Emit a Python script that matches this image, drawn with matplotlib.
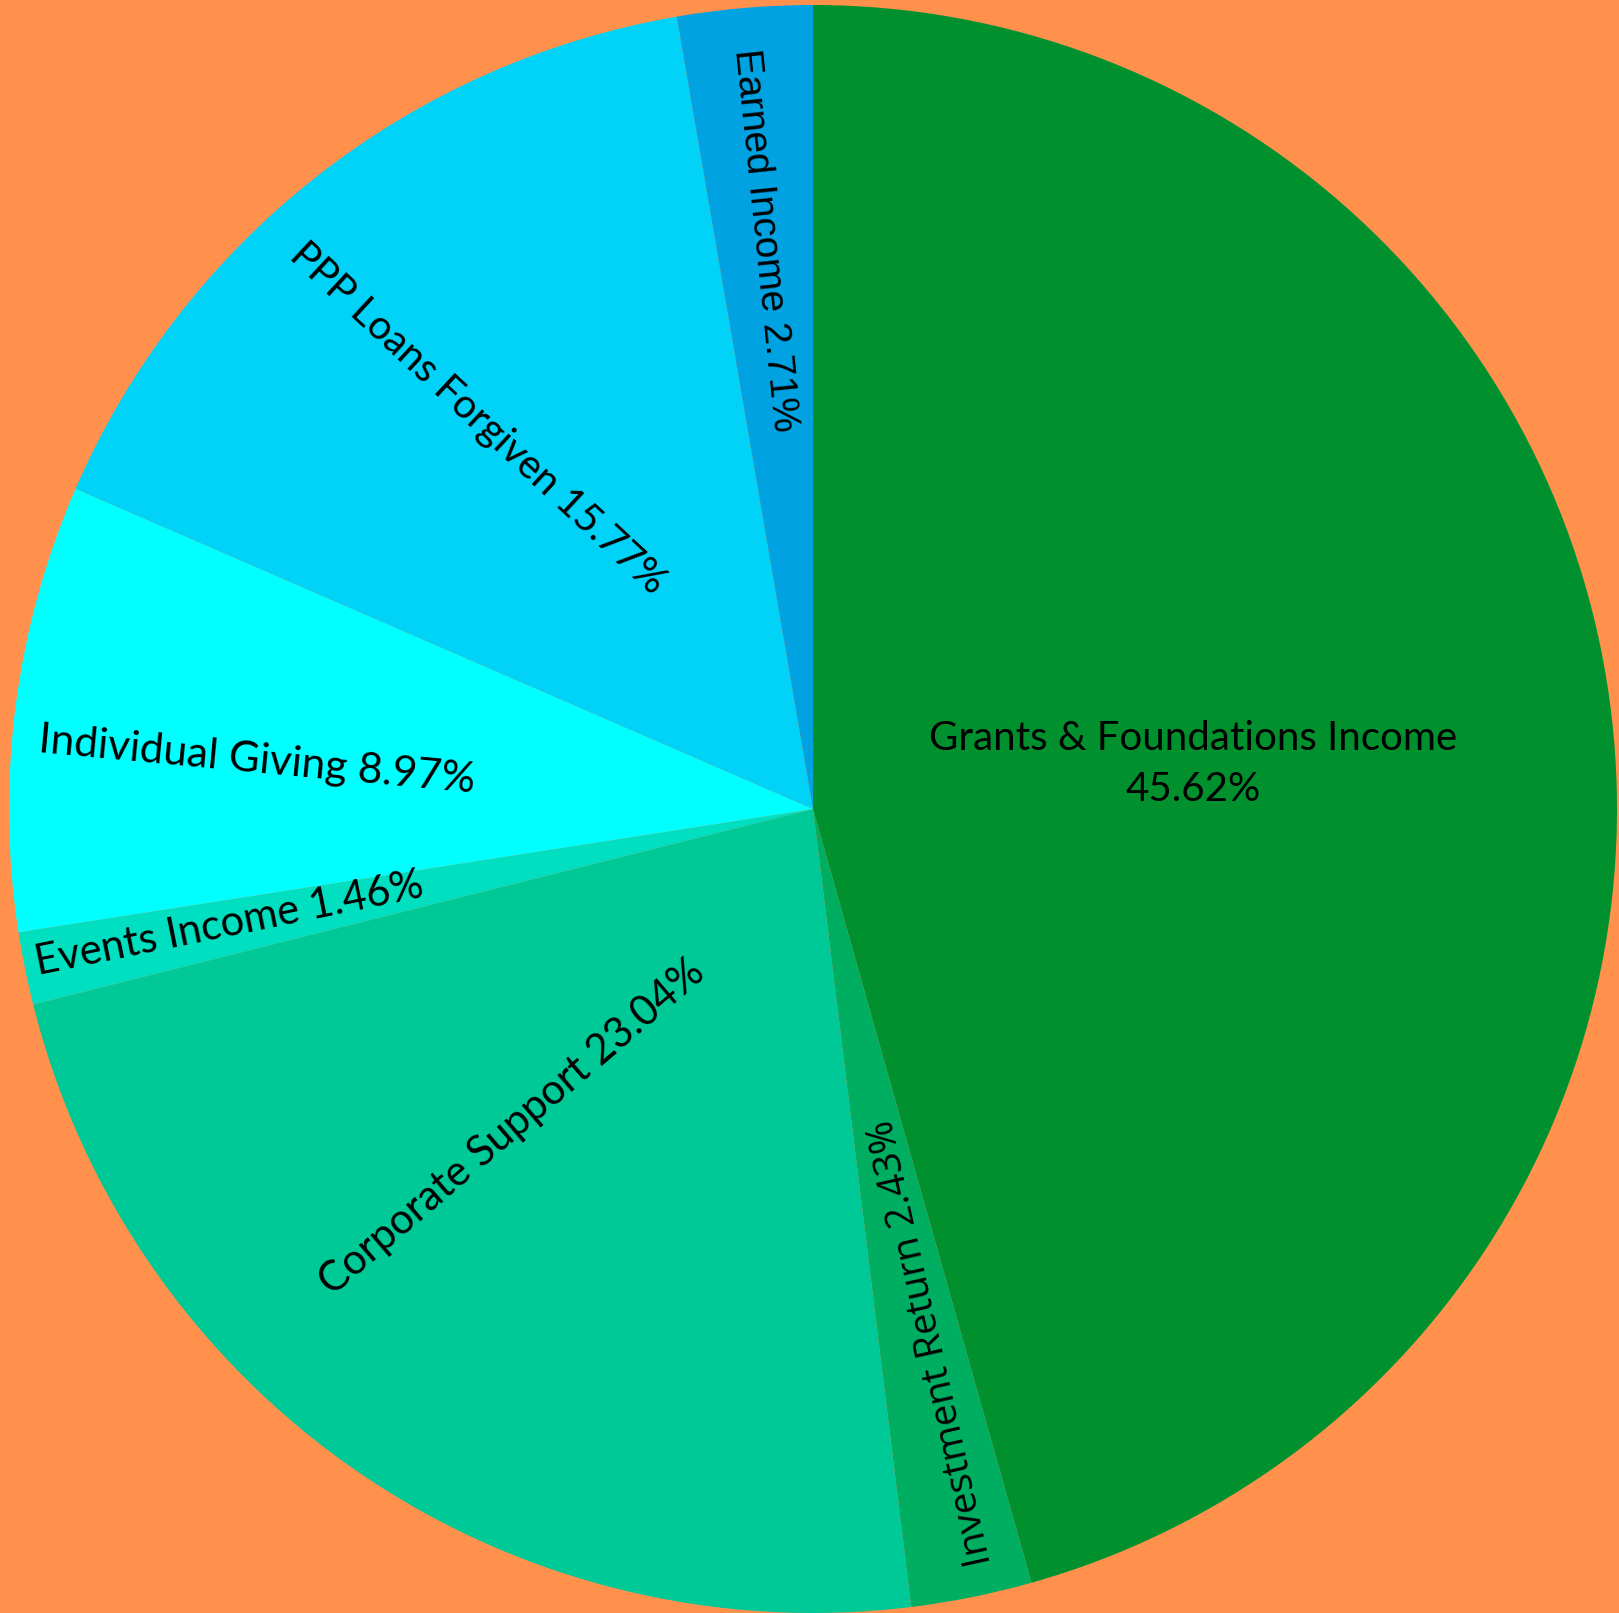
import numpy as np
import matplotlib
matplotlib.use("Agg")
import matplotlib.pyplot as plt

# Einnahmen nach Quelle (%)
labels = ["Grants & Foundations Income", "Investment Return", "Corporate Support",
          "Events Income", "Individual Giving", "PPP Loans Forgiven", "Earned Income"]
values = [45.62, 2.43, 23.04, 1.46, 8.97, 15.77, 2.71]

colors = ["#00912E", "#00AE62", "#00C998", "#00E0C0", "#00FFFF", "#00D3F7", "#00A2E1"]
bg = "#FF914D"

# Layout der Beschriftungen: Radius (Anteil), Winkel- und Drehkorrektur (Grad), Schrift
label_r = [0.476, 0.68, 0.545, 0.74, 0.694, 0.64, 0.71]
label_dtheta = [-1.1, 1.1, -9.0, -0.3, 2.3, 2.5, 0.0]
label_drot = [0, 1.2, -15.0, 0.0, 2.0, 9.0, 1.0]
label_font = ["Lato", "Open Sans", "Lato", "Lato", "Lato", "Lato", "Liberation Sans"]
label_size = [29, 28, 30, 30, 30.5, 29, 28]

fig = plt.figure(figsize=(16.19, 16.13), dpi=100, facecolor=bg)
ax = fig.add_axes([9 / 1619, 0, 1608 / 1619, 1608 / 1613])
ax.set_facecolor(bg)

wedges, _ = ax.pie(values, colors=colors, startangle=90, counterclock=False,
                   radius=1, wedgeprops=dict(linewidth=0))
ax.set_xlim(-1, 1)
ax.set_ylim(-1, 1)
ax.set_aspect("equal")
ax.axis("off")

cum = np.cumsum([0] + values[:-1])
for i, (lab, v) in enumerate(zip(labels, values)):
    theta = 90 - (cum[i] + v / 2) * 3.6
    t = np.deg2rad(theta + label_dtheta[i])
    x, y = label_r[i] * np.cos(t), label_r[i] * np.sin(t)
    if i == 0:
        ax.text(x, y, f"{lab}\n{v:.2f}%", ha="center", va="center",
                fontsize=label_size[i], family=label_font[i], linespacing=1.45)
        continue
    rot = (theta + 180) % 360
    if rot > 180:
        rot -= 360
    ax.text(x, y, f"{lab} {v:g}%", ha="center", va="center", rotation=rot + label_drot[i],
            rotation_mode="anchor", fontsize=label_size[i], family=label_font[i])

fig.savefig("out.png", dpi=100, facecolor=bg)
